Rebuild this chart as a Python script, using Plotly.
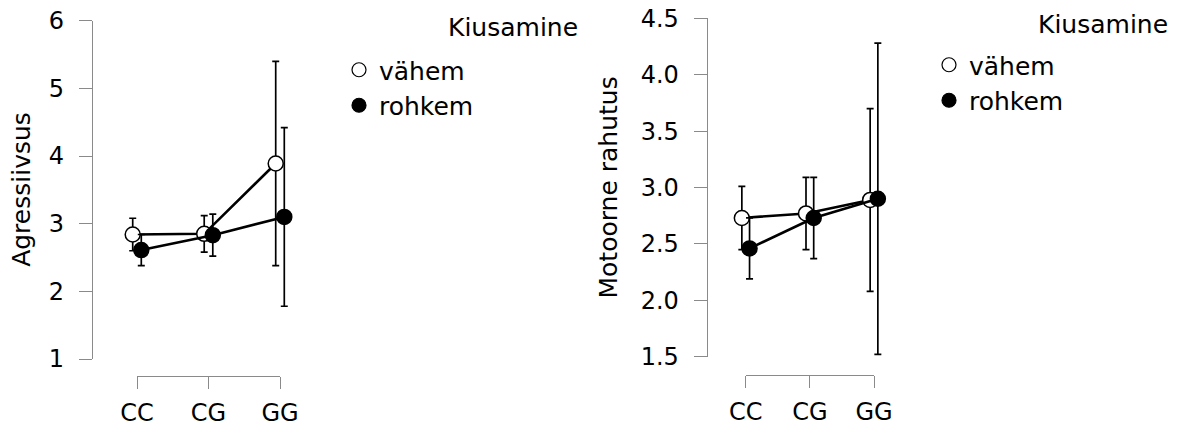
import plotly.graph_objects as go

W, H = 1180, 426

categories = ["CC", "CG", "GG"]
groups = ["vähem", "rohkem"]
legend_title = "Kiusamine"

# Panel 1: Agressiivsus
agr_mean_vahem = [2.84, 2.85, 3.89]
agr_err_vahem = [0.24, 0.27, 1.51]
agr_mean_rohkem = [2.61, 2.83, 3.10]
agr_err_rohkem = [0.23, 0.31, 1.32]
agr_yticks = [1, 2, 3, 4, 5, 6]

# Panel 2: Motoorne rahutus
mot_mean_vahem = [2.73, 2.77, 2.89]
mot_err_vahem = [0.28, 0.32, 0.81]
mot_mean_rohkem = [2.46, 2.73, 2.90]
mot_err_rohkem = [0.27, 0.36, 1.38]
mot_yticks = [1.5, 2.0, 2.5, 3.0, 3.5, 4.0, 4.5]
mot_yticktext = ["1.5", "2.0", "2.5", "3.0", "3.5", "4.0", "4.5"]

FONT = "DejaVu Sans"
FS_TICK = 24
FS_TEXT = 25
AXC = "#8a8a8a"
DODGE = 0.06

fig = go.Figure()

def px_x(p):
    return p / W

def px_y(p):
    return 1 - p / H

panels = [
    dict(xd="x", yd="y", xs="x2", means=(agr_mean_vahem, agr_mean_rohkem),
         errs=(agr_err_vahem, agr_err_rohkem), yaxis_px=93.0, cat_px=(137.0, 280.0),
         ytop_px=20.7, ybot_px=359.0, yr=(1, 6), xline_px=376.0, right_px=330.0,
         ticks=agr_yticks, ticktext=[str(t) for t in agr_yticks], title="Agressiivsus",
         title_x=22, legend="legend", lg_x=339, lg_y=47, lt_x=580, lt_y=27),
    dict(xd="x3", yd="y3", xs="x4", means=(mot_mean_vahem, mot_mean_rohkem),
         errs=(mot_err_vahem, mot_err_rohkem), yaxis_px=707.7, cat_px=(745.7, 874.0),
         ytop_px=18.3, ybot_px=356.7, yr=(1.5, 4.5), xline_px=375.0, right_px=940.0,
         ticks=mot_yticks, ticktext=mot_yticktext, title="Motoorne rahutus",
         title_x=608, legend="legend2", lg_x=929, lg_y=42, lt_x=1170, lt_y=24),
]

idx = list(range(len(categories)))
layout = {}
annotations = []
for k, p in enumerate(panels):
    for g, (name, fill) in enumerate(zip(groups, ["white", "black"])):
        off = -DODGE if g == 0 else DODGE
        fig.add_trace(go.Scatter(
            x=[i + off for i in idx], y=p["means"][g], mode="lines+markers",
            xaxis=p["xd"], yaxis=p["yd"], showlegend=False, name=name,
            line=dict(color="black", width=2.6),
            marker=dict(symbol="circle", size=15, color=fill, line=dict(color="black", width=1.5)),
            error_y=dict(type="data", array=p["errs"][g], visible=True, color="black",
                         thickness=1.7, width=3.5),
            cliponaxis=False,
        ))
        fig.add_trace(go.Scatter(
            x=[None], y=[None], mode="markers", name=name, legend=p["legend"],
            xaxis=p["xd"], yaxis=p["yd"], showlegend=True,
            marker=dict(symbol="circle", size=14, color=fill, line=dict(color="black", width=1.2)),
        ))
    c0, c1 = p["cat_px"]
    unit = (c1 - c0) / (len(categories) - 1)
    xr = [(p["yaxis_px"] - c0) / unit, (p["right_px"] - c0) / unit]
    xd_name = "xaxis" if p["xd"] == "x" else "xaxis" + p["xd"][1:]
    xs_name = "xaxis" + p["xs"][1:]
    yd_name = "yaxis" if p["yd"] == "y" else "yaxis" + p["yd"][1:]
    layout[xd_name] = dict(domain=[px_x(p["yaxis_px"]), px_x(p["right_px"])], range=xr,
                           anchor=p["yd"], showline=False, showgrid=False, zeroline=False,
                           showticklabels=False, ticks="", fixedrange=True, automargin=False)
    layout[xs_name] = dict(domain=[px_x(c0), px_x(c1)], range=[0, len(categories) - 1],
                           anchor="free", position=px_y(p["xline_px"]),
                           showline=True, linecolor=AXC, linewidth=1.2, ticks="outside",
                           ticklen=12, tickwidth=1.2, tickcolor=AXC, showgrid=False, zeroline=False,
                           tickvals=idx, ticktext=categories, ticklabelstandoff=3, automargin=False,
                           tickfont=dict(family=FONT, size=FS_TICK, color="black"))
    layout[yd_name] = dict(domain=[px_y(p["ybot_px"]), px_y(p["ytop_px"])], range=list(p["yr"]),
                           anchor=p["xd"], showline=True, linecolor=AXC, linewidth=1.2,
                           ticks="outside", ticklen=13, tickwidth=1.2, tickcolor=AXC,
                           showgrid=False, zeroline=False, tickvals=p["ticks"], ticktext=p["ticktext"],
                           ticklabelstandoff=10, automargin=False,
                           tickfont=dict(family=FONT, size=FS_TICK, color="black"))
    annotations.append(dict(text=p["title"], xref="paper", yref="paper",
                            x=px_x(p["title_x"]), y=px_y((p["ytop_px"] + p["ybot_px"]) / 2),
                            textangle=-90, showarrow=False, xanchor="center", yanchor="middle",
                            font=dict(family=FONT, size=FS_TEXT, color="black")))
    annotations.append(dict(text=legend_title, xref="paper", yref="paper",
                            x=px_x(p["lt_x"]), y=px_y(p["lt_y"]), showarrow=False,
                            xanchor="right", yanchor="middle",
                            font=dict(family=FONT, size=FS_TEXT, color="black")))
    layout[p["legend"]] = dict(x=px_x(p["lg_x"]), y=px_y(p["lg_y"]), xanchor="left", yanchor="top",
                               bgcolor="rgba(0,0,0,0)", borderwidth=0, tracegroupgap=0,
                               font=dict(family=FONT, size=FS_TEXT, color="black"),
                               itemclick=False, itemdoubleclick=False)

fig.update_layout(**layout)
# empty traces that register the category display axes
for p in panels:
    fig.add_trace(go.Scatter(x=[None], y=[None], xaxis=p["xs"], yaxis=p["yd"],
                             showlegend=False, hoverinfo="skip"))

fig.update_layout(width=W, height=H, margin=dict(l=0, r=0, t=0, b=0, autoexpand=False),
                  paper_bgcolor="white", plot_bgcolor="rgba(0,0,0,0)", template="none",
                  annotations=annotations, font=dict(family=FONT, size=FS_TEXT, color="black"))

fig.write_html("out.html", config={"displayModeBar": False})
